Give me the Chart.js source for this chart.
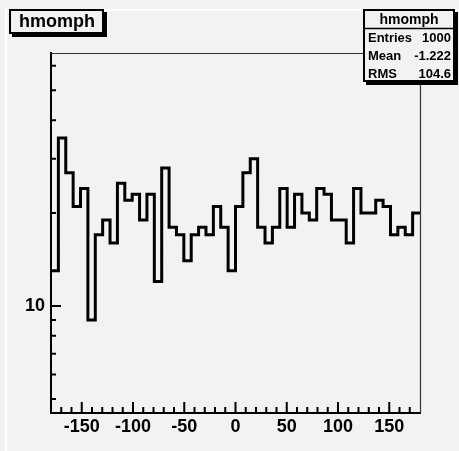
<!DOCTYPE html>
<html lang="en">
<head>
  <meta charset="UTF-8">
  <title>hmomph</title>
  <script src="https://cdn.jsdelivr.net/npm/chart.js"></script>
  <style>
    html, body { margin: 0; padding: 0; background: #f2f2f2; }
    #wrap { width: 459px; height: 451px; }
  </style>
</head>
<body>
  <div id="wrap"><canvas id="histChart" width="459" height="451"></canvas></div>

  <script>
    // histogram contents, 50 bins from -180 to 180
    const histName = 'hmomph';
    const xRange = [-180, 180];
    const counts = [
      13, 35, 27, 21, 24, 9, 17, 19, 16, 25,
      22, 23, 19, 23, 12, 28, 18, 17, 14, 17,
      18, 17, 21, 18, 13, 21, 27, 30, 18, 16,
      18, 24, 18, 23, 20, 19, 24, 23, 19, 19,
      16, 24, 20, 20, 22, 21, 17, 18, 17, 20
    ];
    const xLabelTicks = [-150, -100, -50, 0, 50, 100, 150];
    const xMinorTicks = [-170, -160, -140, -130, -120, -110, -90, -80, -70, -60, -40, -30, -20, -10,
                         10, 20, 30, 40, 60, 70, 80, 90, 110, 120, 130, 140, 160, 170];
    const yRange = [4.5, 66];
    const yLabelTicks = [10];
    const yMinorTicks = [5, 6, 7, 8, 9, 20, 30, 40, 50, 60];
    const statsRows = [['Entries', '1000'], ['Mean', '-1.222'], ['RMS', '104.6']];

    const FONT = '"Liberation Sans", Arial, Helvetica, sans-serif';
    const BG = '#f2f2f2';

    const binWidth = (xRange[1] - xRange[0]) / counts.length;
    const points = counts.map((c, i) => ({ x: xRange[0] + i * binWidth, y: c }));
    points.push({ x: xRange[1], y: counts[counts.length - 1] });

    function box(ctx, x, y, w, h) {
      ctx.fillStyle = '#000';
      ctx.fillRect(x + 3, y + 3, w, h);
      ctx.fillStyle = BG;
      ctx.fillRect(x, y, w, h);
      ctx.strokeStyle = '#000';
      ctx.lineWidth = 2;
      ctx.strokeRect(x + 1, y + 1, w - 2, h - 2);
      ctx.fillStyle = '#000';
    }

    const rootPad = {
      id: 'rootPad',
      beforeDraw(chart) {
        const ctx = chart.ctx;
        ctx.save();
        ctx.fillStyle = BG;
        ctx.fillRect(0, 0, chart.width, chart.height);
        // pad highlight
        ctx.fillStyle = '#ffffff';
        ctx.fillRect(5, 9, 2, chart.height - 9);
        ctx.fillRect(5, 9, chart.width - 5, 2);
        ctx.restore();
      },
      afterDraw(chart) {
        const ctx = chart.ctx;
        const a = chart.chartArea;
        const xs = chart.scales.x, ys = chart.scales.y;
        ctx.save();
        // top and right frame
        ctx.strokeStyle = '#333';
        ctx.lineWidth = 1.2;
        ctx.beginPath();
        ctx.moveTo(a.left, a.top + 0.5);
        ctx.lineTo(a.right + 0.5, a.top + 0.5);
        ctx.lineTo(a.right + 0.5, a.bottom);
        ctx.stroke();

        // ticks inside the frame
        ctx.strokeStyle = '#000';
        ctx.lineWidth = 2;
        ctx.beginPath();
        xLabelTicks.forEach(v => {
          const px = xs.getPixelForValue(v);
          ctx.moveTo(px, a.bottom); ctx.lineTo(px, a.bottom - 11);
        });
        xMinorTicks.forEach(v => {
          const px = xs.getPixelForValue(v);
          ctx.moveTo(px, a.bottom); ctx.lineTo(px, a.bottom - 6);
        });
        yLabelTicks.forEach(v => {
          const py = ys.getPixelForValue(v);
          ctx.moveTo(a.left, py); ctx.lineTo(a.left + 10, py);
        });
        yMinorTicks.forEach(v => {
          const py = ys.getPixelForValue(v);
          ctx.moveTo(a.left, py); ctx.lineTo(a.left + 5, py);
        });
        ctx.stroke();

        // title box
        box(ctx, 9, 9, 95, 25);
        ctx.font = 'bold 18px ' + FONT;
        ctx.textAlign = 'center';
        ctx.textBaseline = 'middle';
        ctx.fillText(histName, 57, 22);

        // stats box
        box(ctx, 363, 9, 92, 73);
        ctx.beginPath();
        ctx.moveTo(363, 28.5); ctx.lineTo(455, 28.5);
        ctx.lineWidth = 1.5;
        ctx.stroke();
        ctx.textAlign = 'center';
        ctx.font = 'bold 14px ' + FONT;
        ctx.fillText(histName, 409, 20);
        ctx.font = 'bold 13px ' + FONT;
        statsRows.forEach((r, i) => {
          const y = 38 + i * 18;
          ctx.textAlign = 'left';
          ctx.fillText(r[0], 368, y);
          ctx.textAlign = 'right';
          ctx.fillText(r[1], 451, y);
        });
        ctx.restore();
      }
    };

    new Chart(document.getElementById('histChart'), {
      type: 'line',
      data: {
        datasets: [{
          data: points,
          stepped: true,
          borderColor: '#000',
          borderWidth: 3,
          pointRadius: 0,
          fill: false
        }]
      },
      options: {
        responsive: false,
        animation: false,
        layout: { padding: { left: 0, top: 53, right: 39, bottom: 0 } },
        plugins: { legend: { display: false }, tooltip: { enabled: false } },
        scales: {
          x: {
            type: 'linear',
            min: xRange[0],
            max: xRange[1],
            afterBuildTicks: s => { s.ticks = xLabelTicks.map(v => ({ value: v })); },
            afterFit: s => { s.height = 38; },
            ticks: {
              autoSkip: false,
              maxRotation: 0,
              padding: 3,
              color: '#000',
              font: { family: FONT, weight: 'bold', size: 18 },
              callback: v => String(v)
            },
            grid: { display: false, drawTicks: false },
            border: { display: true, color: '#000', width: 2 }
          },
          y: {
            type: 'logarithmic',
            min: yRange[0],
            max: yRange[1],
            bounds: 'data',
            afterBuildTicks: s => { s.ticks = yLabelTicks.map(v => ({ value: v })); },
            afterFit: s => { s.width = 51; },
            ticks: {
              autoSkip: false,
              padding: 6,
              color: '#000',
              font: { family: FONT, weight: 'bold', size: 18 },
              callback: v => String(v)
            },
            grid: { display: false, drawTicks: false },
            border: { display: true, color: '#000', width: 2 }
          }
        }
      },
      plugins: [rootPad]
    });
  </script>
</body>
</html>
